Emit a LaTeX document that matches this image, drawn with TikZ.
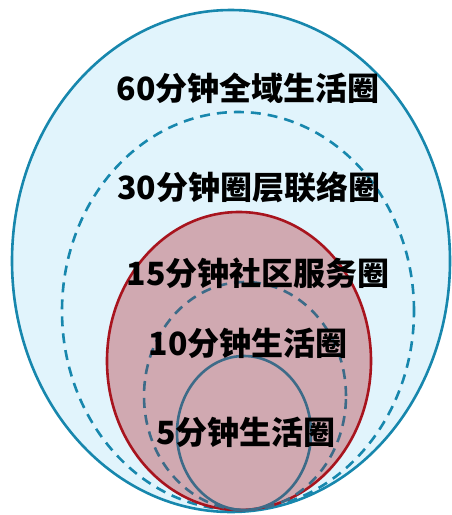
\documentclass[tikz,border=0pt]{standalone}
\usepackage{fontspec}
\newfontfamily\cjk{Noto Sans CJK SC}
\usepackage{tikz}
\usepackage{xcolor}

\definecolor{skyfill}{HTML}{E1F4FC}
\definecolor{skyline}{HTML}{1787AD}
\definecolor{rosefill}{HTML}{D0A9B1}
\definecolor{roseline}{HTML}{A8141E}
\definecolor{slateline}{HTML}{3D6B88}

\begin{document}
\begin{tikzpicture}[
    x=1pt, y=-1pt,
    ring/.style={line width=2.6pt},
    dashring/.style={ring, dash pattern=on 10pt off 7pt},
    label/.style={
        inner sep=0pt,
        font=\cjk\bfseries\fontsize{32}{32}\selectfont
    }
]
\useasboundingbox (0,0) rectangle (452,515);

% -------- Rings --------
\draw[ring, draw=skyline, fill=skyfill] (231,261) ellipse [x radius=219pt, y radius=251pt];
\draw[dashring, draw=skyline] (238,311) ellipse [x radius=176pt, y radius=199pt];
\draw[ring, draw=roseline, fill=rosefill] (239,361) ellipse [x radius=132pt, y radius=149pt];
\draw[dashring, draw=slateline] (245,396) ellipse [x radius=101pt, y radius=114pt];
\draw[ring, draw=slateline] (244,433) ellipse [x radius=67pt, y radius=77pt];

% -------- Labels --------
\node[label] (m60) at (248,88)  {60分钟全域生活圈};
\node[label] (m30) at (249,187) {30分钟圈层联络圈};
\node[label] (m15) at (258,273) {15分钟社区服务圈};
\node[label] (m10) at (248,343) {10分钟生活圈};
\node[label] (m5)  at (246,432) {5分钟生活圈};

\end{tikzpicture}
\end{document}
